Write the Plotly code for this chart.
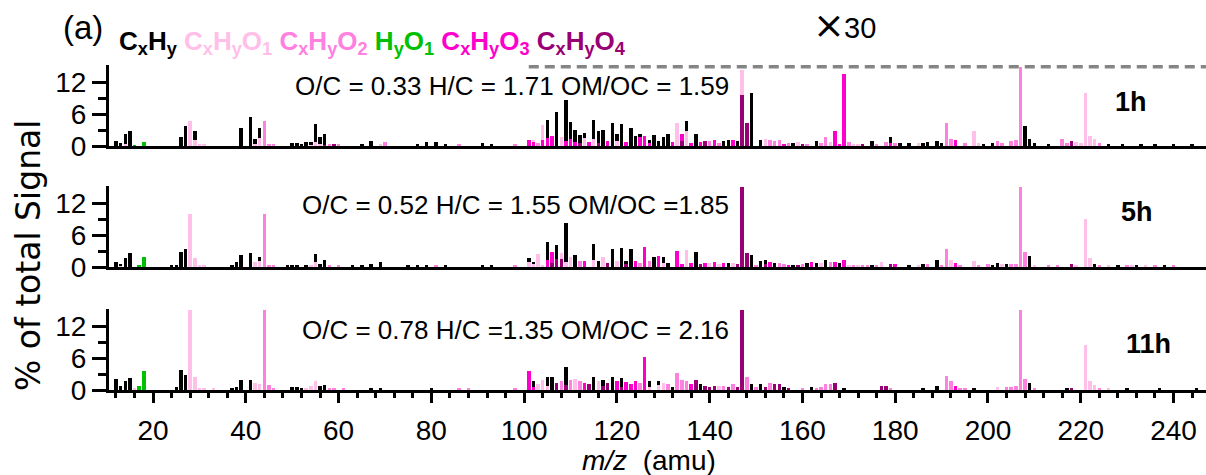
import plotly.graph_objects as go

# ---------------- data: % of total signal per m/z, by ion family ----------------
# 1 h
mz_1h_cxhy = [12, 13, 14, 15, 26, 27, 29, 39, 41, 42, 43, 50, 51, 52, 53, 54, 55, 56, 57, 65, 67,
              77, 79, 81, 83, 91, 93, 105, 107, 109, 110, 111, 112, 113, 115, 116, 117, 119, 120,
              121, 123, 124, 125, 127, 128, 129, 130, 131, 135, 137, 143, 144, 146, 149, 151, 158,
              163, 175, 179, 181, 183, 186, 187, 189, 190, 199, 201, 208, 209, 210, 213, 226, 229,
              233, 236, 240, 244]
pct_1h_cxhy = [0.9, 0.5, 2.0, 2.9, 1.6, 3.8, 1.7, 3.3, 5.4, 1.0, 1.8, 0.5, 0.5, 0.4, 0.7, 0.6, 3.3,
               1.3, 2.0, 0.3, 0.9, 0.4, 0.7, 0.7, 0.3, 0.5, 0.3, 3.4, 6.4, 7.6, 3.2, 2.2, 1.4, 1.0,
               3.5, 2.2, 3.0, 4.4, 1.2, 4.2, 3.4, 1.8, 0.6, 0.5, 2.0, 1.0, 1.6, 2.2, 1.7, 2.2, 1.0,
               1.1, 1.0, 10.0, 1.1, 0.5, 0.9, 0.9, 1.1, 0.6, 0.6, 0.5, 0.8, 0.9, 0.5, 0.4, 0.5, 3.8,
               1.3, 0.6, 0.3, 0.2, 0.2, 0.2, 0.2, 0.2, 0.2]
mz_1h_o1 = [14, 28, 29, 30, 31, 42, 43, 54, 55, 56, 69, 102, 104, 108, 113, 115, 120, 133, 135,
            147, 152, 159, 166, 171, 172, 185, 197, 198, 219, 220, 221, 222, 223]
pct_1h_o1 = [0.3, 4.6, 1.2, 0.4, 0.2, 0.3, 1.5, 0.2, 0.8, 0.4, 0.2, 0.3, 2.7, 1.6, 1.5, 1.4, 1.0,
             4.4, 2.9, 4.7, 1.25, 0.7, 0.8, 0.4, 0.4, 0.6, 2.9, 0.6, 0.8, 0.5, 10.0, 1.9, 1.3]
mz_1h_o2 = [44, 45, 46, 58, 60, 70, 86, 98, 103, 140, 142, 153, 154, 155, 157, 161, 164, 165, 170,
            176, 178, 180, 191, 192, 195, 202, 203, 205, 206, 207, 216, 217, 224]
pct_1h_o2 = [4.6, 0.3, 0.2, 0.2, 0.2, 0.8, 0.2, 0.3, 0.5, 1.0, 0.6, 1.1, 1.0, 1.1, 0.5, 0.4, 0.6,
             1.7, 0.8, 0.4, 0.7, 0.5, 4.4, 1.3, 0.6, 1.0, 0.6, 1.0, 1.1, 14.9, 1.3, 0.6, 0.5]
mz_1h_hyo1 = [16, 18]
pct_1h_hyo1 = [0.15, 0.8]
mz_1h_o3 = [101, 102, 104, 105, 106, 109, 110, 111, 114, 118, 122, 125, 126, 127, 132, 134, 136,
            138, 141, 145, 156, 167, 168, 169, 179, 193]
pct_1h_o3 = [1.1, 0.8, 1.2, 1.5, 1.9, 1.0, 1.3, 0.8, 0.8, 0.9, 0.7, 1.7, 1.9, 0.6, 0.8, 1.2, 0.6,
             0.8, 1.1, 1.1, 0.4, 2.9, 0.4, 13.6, 0.5, 1.1]
mz_1h_o4 = [57, 59, 112, 116, 134, 139, 147, 148, 160, 173, 218]
pct_1h_o4 = [0.2, 0.2, 0.6, 0.6, 1.0, 1.0, 9.6, 4.3, 0.4, 0.3, 1.0]

# 5 h
mz_5h_cxhy = [12, 13, 14, 15, 24, 25, 26, 27, 37, 38, 39, 41, 43, 49, 50, 51, 53, 55, 56, 57, 63,
              65, 67, 69, 75, 77, 79, 83, 91, 93, 101, 102, 105, 107, 109, 111, 115, 116, 119, 121,
              122, 123, 128, 130, 131, 137, 144, 149, 151, 152, 154, 158, 161, 163, 165, 168, 175,
              183, 186, 189, 201, 202, 204, 209, 223, 228, 232, 238]
pct_5h_cxhy = [0.95, 0.3, 1.7, 2.7, 0.2, 0.4, 2.9, 3.4, 0.4, 1.0, 2.2, 2.7, 0.7, 0.3, 0.4, 0.3,
               0.3, 1.5, 0.6, 1.3, 0.2, 0.2, 0.5, 1.0, 0.3, 0.3, 0.4, 0.3, 0.4, 0.3, 0.7, 0.5, 3.2,
               2.7, 7.3, 2.3, 3.0, 1.2, 3.4, 3.5, 0.6, 3.4, 1.8, 1.0, 0.7, 2.8, 0.7, 2.2, 1.2, 0.9,
               0.8, 0.4, 0.8, 0.8, 1.4, 0.8, 0.3, 0.3, 0.5, 1.4, 0.3, 0.8, 0.6, 2.0, 0.5, 0.2, 0.2,
               0.2]
mz_5h_o1 = [13, 28, 29, 30, 31, 42, 43, 54, 55, 101, 102, 103, 104, 108, 109, 110, 115, 117, 120,
            130, 135, 140, 142, 145, 164, 170, 172, 177, 185, 192, 197, 203, 210, 219, 221, 222,
            226, 231, 234]
pct_5h_o1 = [0.3, 9.9, 1.7, 0.2, 0.2, 1.0, 1.2, 0.4, 0.9, 1.0, 0.5, 2.4, 0.4, 1.2, 1.0, 1.8, 1.3,
             1.8, 1.2, 0.8, 3.1, 0.7, 0.5, 0.8, 0.7, 0.4, 0.3, 1.0, 0.4, 1.4, 1.1, 0.6, 0.3, 0.3,
             9.0, 1.7, 0.2, 0.2, 0.2]
mz_5h_o2 = [44, 45, 46, 58, 60, 81, 98, 112, 125, 127, 150, 155, 156, 160, 166, 171, 173, 174, 176,
            187, 190, 191, 194, 198, 200, 205, 206, 207, 208, 213, 215, 224, 230, 236, 240]
pct_5h_o2 = [9.9, 0.4, 0.2, 0.2, 0.2, 0.3, 0.3, 1.2, 0.7, 1.2, 0.3, 0.7, 0.5, 0.5, 0.9, 0.4, 0.4,
             0.4, 0.3, 0.5, 0.3, 3.3, 0.4, 0.3, 0.5, 0.5, 0.6, 15.0, 2.9, 0.3, 0.3, 0.2, 0.2, 0.2,
             0.2]
mz_5h_hyo1 = [17, 18]
pct_5h_hyo1 = [0.3, 1.9]
mz_5h_o3 = [105, 106, 113, 124, 126, 129, 133, 134, 136, 139, 141, 143, 153, 157, 162, 167, 169,
            180, 193]
pct_5h_o3 = [1.4, 2.1, 1.1, 1.2, 3.7, 2.1, 3.0, 0.5, 0.8, 0.8, 0.9, 0.8, 0.9, 0.4, 0.9, 1.0, 1.4,
             0.5, 0.8]
mz_5h_o4 = [106, 107, 108, 118, 122, 138, 146, 147, 148, 152, 159, 179, 218]
pct_5h_o4 = [0.8, 1.5, 1.5, 0.8, 0.6, 0.5, 0.5, 15.0, 2.6, 0.5, 0.4, 0.5, 0.5]

# 11 h
mz_11h_cxhy = [12, 13, 14, 15, 25, 26, 27, 37, 38, 39, 41, 50, 51, 52, 56, 57, 67, 69, 80, 102,
               105, 106, 109, 115, 117, 119, 121, 127, 129, 132, 138, 149, 151, 156, 162, 169, 186,
               189, 197, 209, 217, 230, 237, 245]
pct_11h_cxhy = [2.0, 0.8, 1.7, 2.2, 0.6, 3.7, 2.9, 0.4, 0.6, 1.9, 1.9, 0.6, 0.5, 0.3, 0.8, 1.0,
                0.4, 0.3, 0.3, 1.0, 1.6, 2.5, 3.3, 2.4, 1.0, 2.5, 1.8, 1.0, 0.8, 0.6, 1.1, 1.1, 1.1,
                0.5, 0.5, 0.4, 0.3, 0.8, 0.4, 1.4, 0.4, 0.2, 0.2, 0.2]
mz_11h_o1 = [16, 28, 29, 30, 31, 33, 42, 43, 53, 54, 55, 103, 104, 105, 111, 116, 127, 129, 130,
             142, 202, 221, 222, 223, 226]
pct_11h_o1 = [0.2, 15.0, 2.4, 0.4, 0.2, 0.2, 1.3, 1.2, 0.4, 0.8, 1.6, 1.1, 1.9, 0.8, 2.0, 1.7,
              0.6, 0.9, 1.4, 0.8, 0.5, 8.4, 1.7, 1.0, 0.2]
mz_11h_o2 = [44, 45, 46, 58, 59, 61, 86, 88, 98, 108, 110, 112, 125, 131, 133, 134, 135, 143, 145,
             148, 150, 153, 160, 163, 164, 165, 166, 179, 191, 192, 194, 195, 204, 205, 206, 207,
             208, 210, 224]
pct_11h_o2 = [15.0, 1.0, 0.2, 0.2, 0.2, 0.2, 0.2, 0.2, 0.3, 1.7, 1.9, 1.7, 1.4, 1.1, 3.1, 1.9,
              1.7, 0.8, 1.1, 2.5, 0.5, 1.4, 0.4, 0.4, 0.6, 1.1, 1.2, 0.4, 2.7, 1.6, 0.4, 0.3, 0.5,
              0.6, 0.8, 15.0, 2.0, 0.3, 0.3]
mz_11h_hyo1 = [17, 18]
pct_11h_hyo1 = [0.8, 3.5]
mz_11h_o3 = [101, 102, 113, 120, 122, 123, 124, 126, 136, 193]
pct_11h_o3 = [3.5, 0.6, 1.4, 1.7, 1.5, 1.2, 1.6, 6.1, 1.1, 0.8]
mz_11h_o4 = [107, 109, 114, 117, 118, 121, 137, 139, 140, 141, 144, 146, 147, 152, 154, 155, 157,
             167, 177, 178, 218]
pct_11h_o4 = [1.4, 1.0, 1.1, 0.8, 1.4, 0.5, 1.9, 0.8, 0.6, 0.8, 0.6, 0.5, 15.0, 0.6, 1.2, 1.1,
              0.3, 1.4, 0.8, 0.8, 0.4]

panel_labels = ["1h", "5h", "11h"]
ratio_texts = ["O/C = 0.33 H/C = 1.71 OM/OC = 1.59",
               "O/C = 0.52 H/C = 1.55 OM/OC =1.85",
               "O/C = 0.78 H/C =1.35 OM/OC = 2.16"]
x_ticks = [20, 40, 60, 80, 100, 120, 140, 160, 180, 200, 220, 240]
y_ticks = [0, 6, 12]

# stacking order bottom -> top
families = ["O4", "O3", "O2", "HyO1", "O1", "CxHy"]
colors = {"CxHy": "#000000", "O1": "#ffbfe8", "O2": "#ff80df",
          "HyO1": "#00c000", "O3": "#ff00cc", "O4": "#990073"}

panels = [
    {"CxHy": (mz_1h_cxhy, pct_1h_cxhy), "O1": (mz_1h_o1, pct_1h_o1), "O2": (mz_1h_o2, pct_1h_o2),
     "HyO1": (mz_1h_hyo1, pct_1h_hyo1), "O3": (mz_1h_o3, pct_1h_o3), "O4": (mz_1h_o4, pct_1h_o4)},
    {"CxHy": (mz_5h_cxhy, pct_5h_cxhy), "O1": (mz_5h_o1, pct_5h_o1), "O2": (mz_5h_o2, pct_5h_o2),
     "HyO1": (mz_5h_hyo1, pct_5h_hyo1), "O3": (mz_5h_o3, pct_5h_o3), "O4": (mz_5h_o4, pct_5h_o4)},
    {"CxHy": (mz_11h_cxhy, pct_11h_cxhy), "O1": (mz_11h_o1, pct_11h_o1),
     "O2": (mz_11h_o2, pct_11h_o2), "HyO1": (mz_11h_hyo1, pct_11h_hyo1),
     "O3": (mz_11h_o3, pct_11h_o3), "O4": (mz_11h_o4, pct_11h_o4)},
]

# ---------------- layout geometry ----------------
W, H = 1206, 475
ML, MR, MT, MB = 109, 0, 65, 85
PW, PH = W - ML - MR, H - MT - MB
FONT = "Liberation Sans, Arial, sans-serif"
TICK_FONT = 28


def fx(px):
    return (px - ML) / PW


def fy(py):
    return (H - MB - py) / PH


# baseline / top pixel rows of each panel
panel_rows = [(146, 65), (267, 186), (390, 309)]
X_RANGE = [10.5, 247]
Y_RANGE = [0, 15.2]

fig = go.Figure()
for i, data in enumerate(panels):
    n = "" if i == 0 else str(i + 1)
    for fam in families:
        mz, pct = data[fam]
        assert len(mz) == len(pct)
        fig.add_trace(go.Bar(x=mz, y=pct, width=0.75, marker_color=colors[fam],
                             marker_line_width=0, xaxis="x" + n, yaxis="y" + n,
                             showlegend=False, name=fam))

layout = dict(width=W, height=H, margin=dict(l=ML, r=MR, t=MT, b=MB),
              paper_bgcolor="white", plot_bgcolor="white", barmode="stack", bargap=0,
              font=dict(family=FONT, color="black", size=24), showlegend=False)

for i, (base, top) in enumerate(panel_rows):
    n = "" if i == 0 else str(i + 1)
    last = i == len(panel_rows) - 1
    xa = dict(domain=[0, 1], range=X_RANGE, anchor="y" + n, showline=True, linecolor="black",
              linewidth=3, showgrid=False, zeroline=False)
    if last:
        xa.update(tickmode="array", tickvals=x_ticks, ticks="outside", ticklen=10, tickwidth=3,
                  tickcolor="black", showticklabels=True, tickfont=dict(size=TICK_FONT),
                  ticklabelstandoff=3,
                  minor=dict(tickmode="linear", tick0=0, dtick=4, ticks="outside", ticklen=5,
                             tickwidth=3, tickcolor="black"))
    else:
        xa.update(ticks="", showticklabels=False)
    ya = dict(domain=[fy(base), fy(top)], range=Y_RANGE, anchor="x" + n, showline=True,
              linecolor="black", linewidth=3, showgrid=False, zeroline=False,
              tickmode="array", tickvals=y_ticks, ticks="outside", ticklen=14, tickwidth=2.5,
              tickcolor="black", tickfont=dict(size=TICK_FONT),
              minor=dict(tickmode="array", tickvals=[3, 9], ticks="outside", ticklen=8,
                         tickwidth=2.5, tickcolor="black"))
    layout["xaxis" + n] = xa
    layout["yaxis" + n] = ya

fig.update_layout(**layout)

# x30 marker line over the scaled-up part of the 1 h spectrum
fig.add_shape(type="line", xref="x", yref="y", x0=101, x1=X_RANGE[1], y0=14.85, y1=14.85,
              line=dict(color="#858585", width=3.5, dash="10px,6px"))

legend_text = ("<b>"
               '<span style="color:#000000">C<sub>x</sub>H<sub>y</sub></span> '
               '<span style="color:#ffbfe8">C<sub>x</sub>H<sub>y</sub>O<sub>1</sub></span> '
               '<span style="color:#ff80df">C<sub>x</sub>H<sub>y</sub>O<sub>2</sub></span> '
               '<span style="color:#00c000">H<sub>y</sub>O<sub>1</sub></span> '
               '<span style="color:#ff00cc">C<sub>x</sub>H<sub>y</sub>O<sub>3</sub></span> '
               '<span style="color:#990073">C<sub>x</sub>H<sub>y</sub>O<sub>4</sub></span>'
               "</b>")

ann = [
    dict(text="(a)", x=fx(61), y=fy(27), xanchor="left", font=dict(size=33)),
    dict(text=legend_text, x=fx(117), y=fy(42), xanchor="left", font=dict(size=26)),
    dict(text="\u00d7", x=fx(829), y=fy(25), font=dict(size=38,
                                                        family="DejaVu Sans, sans-serif")),
    dict(text="30", x=fx(842), y=fy(28), xanchor="left", font=dict(size=29)),
    dict(text="% of total Signal", x=fx(28), y=fy(256), textangle=-90,
         font=dict(size=33, family="DejaVu Sans, sans-serif")),
    dict(text="<i>m/z</i>  (amu)", x=fx(649), y=fy(460), font=dict(size=28)),
]
ratio_pos = [(293, 86), (300, 205), (300, 330)]
label_pos = [(1131, 102), (1137, 212), (1148, 344)]
for txt, (x, y) in zip(ratio_texts, ratio_pos):
    ann.append(dict(text=txt, x=fx(x), y=fy(y), xanchor="left", font=dict(size=26)))
for txt, (x, y) in zip(panel_labels, label_pos):
    ann.append(dict(text="<b>" + txt + "</b>", x=fx(x), y=fy(y), font=dict(size=27)))

for a in ann:
    a.update(xref="paper", yref="paper", showarrow=False, yanchor="middle")
    a.setdefault("xanchor", "center")
fig.update_layout(annotations=ann)

fig.write_html("out.html")
